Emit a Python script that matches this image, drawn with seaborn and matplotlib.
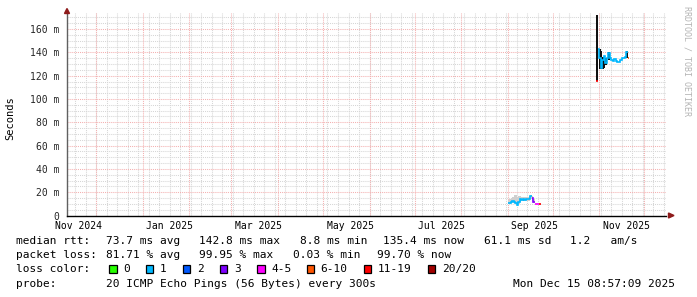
import numpy as np
import pandas as pd
import matplotlib
matplotlib.use("Agg")
import matplotlib.pyplot as plt
import matplotlib.dates as mdates
from matplotlib.patches import Rectangle, Polygon
import seaborn as sns

# ---------------- data ----------------
c1_dates = ["2025-09-01", "2025-09-02", "2025-09-03", "2025-09-04", "2025-09-05", "2025-09-06",
            "2025-09-07", "2025-09-08", "2025-09-09", "2025-09-10", "2025-09-11", "2025-09-12",
            "2025-09-13", "2025-09-14", "2025-09-15", "2025-09-16", "2025-09-17", "2025-09-18",
            "2025-09-19", "2025-09-20", "2025-09-21", "2025-09-22"]
c1_median = [10.4, 10.8, 12.0, 12.6, 12.0, 11.0, 8.9, 11.5, 13.8, 13.6, 13.8, 13.7,
             13.9, 13.8, 14.0, 16.7, 15.0, 12.0, 9.5, 9.5, 9.5, 9.6]
c1_loss = ["1", "1", "1", "1", "1", "1", "1", "1", "1", "1", "1", "1",
           "1", "1", "1", "1", "3", "3", "4-5", "4-5", "4-5", "11-19"]
c1_smoke_lo = [9.5, 9.8, 10.5, 11.0, 10.8, 9.8, 8.5, 10.0, 12.0, 12.2, 12.5, 12.4,
               12.5, 12.6, 12.8, 14.0, 12.5, 10.5, 9.0, 9.0, 9.0, 9.2]
c1_smoke_hi = [13.0, 14.5, 15.0, 15.5, 17.5, 17.5, 16.0, 17.0, 16.5, 16.0, 16.2, 16.0,
               16.3, 16.2, 16.5, 18.0, 17.0, 14.0, 11.0, 10.5, 10.5, 10.2]

c2_dates = ["2025-10-30", "2025-10-31", "2025-11-01", "2025-11-02", "2025-11-03", "2025-11-04",
            "2025-11-05", "2025-11-06", "2025-11-07", "2025-11-08", "2025-11-09", "2025-11-10",
            "2025-11-11", "2025-11-12", "2025-11-13", "2025-11-14", "2025-11-15", "2025-11-16",
            "2025-11-17", "2025-11-18", "2025-11-19", "2025-11-20"]
c2_median = [115.4, 142.8, 134.8, 126.3, 133.4, 137.0, 131.0, 135.0, 139.5, 135.4, 133.4, 133.0,
             134.5, 132.5, 131.5, 132.0, 133.5, 134.8, 135.4, 136.3, 140.5, 135.4]
c2_loss = ["11-19", "1", "1", "1", "1", "1", "1", "1", "1", "1", "1", "1",
           "1", "1", "1", "1", "1", "1", "1", "1", "1", "6-10"]
c2_smoke_lo = [115.4, np.nan, 125.4, 125.4, 125.4, 127.0, 129.0, np.nan, 133.4, np.nan, np.nan, np.nan,
               np.nan, np.nan, np.nan, np.nan, np.nan, np.nan, np.nan, np.nan, 134.8, np.nan]
c2_smoke_hi = [172.0, np.nan, 142.8, 141.0, 136.0, 136.0, 135.0, np.nan, 140.5, np.nan, np.nan, np.nan,
               np.nan, np.nan, np.nan, np.nan, np.nan, np.nan, np.nan, np.nan, 141.0, np.nan]

loss_labels = ["0", "1", "2", "3", "4-5", "6-10", "11-19", "20/20"]
loss_colors = ["#26ff00", "#00b8ff", "#0059ff", "#7e00ff", "#ff00ff", "#ff5500", "#ff0000", "#a10000"]

y_ticks = [0, 20, 40, 60, 80, 100, 120, 140, 160]
x_label_months = ["2024-11-01", "2025-01-01", "2025-03-01", "2025-05-01", "2025-07-01", "2025-09-01", "2025-11-01"]
x_label_texts = ["Nov 2024", "Jan 2025", "Mar 2025", "May 2025", "Jul 2025", "Sep 2025", "Nov 2025"]

rtt_items = ["73.7 ms avg", "142.8 ms max", "8.8 ms min", "135.4 ms now", "61.1 ms sd", "1.2   am/s"]
loss_items = ["81.71 % avg", "99.95 % max", "0.03 % min", "99.70 % now"]
probe_text = "20 ICMP Echo Pings (56 Bytes) every 300s"
stamp_text = "Mon Dec 15 08:57:09 2025"

# ---------------- style ----------------
sns.set_style("white")
plt.rcParams["font.family"] = ["DejaVu Sans Mono", "DejaVu Sans"]
MONO = "DejaVu Sans Mono"

W, H = 697, 297
fig = plt.figure(figsize=(W / 100, H / 100), dpi=100)
fig.patch.set_facecolor("white")


def fx(x):
    return x / W


def fy(y):
    return 1 - y / H


AX_L, AX_R, AX_T, AX_B = 67, 666, 13, 215.5
ax = fig.add_axes([fx(AX_L), fy(AX_B), (AX_R - AX_L) / W, (AX_B - AX_T) / H])
ax.set_facecolor("white")

x_start = pd.Timestamp("2024-11-11 14:00")
x_end = pd.Timestamp("2025-12-15 09:00")
YMAX = 173.8

# ---------------- grid ----------------
minor_c = "#d6d6d6"
major_c = "#f4b0b0"
dot = (0, (1, 1))
weeks = pd.date_range("2024-11-17", x_end, freq="7D")
months = pd.date_range("2024-12-01", x_end, freq="MS")
for d in weeks:
    ax.axvline(mdates.date2num(d), color=minor_c, lw=0.75, ls=dot, zorder=0)
for d in months:
    ax.axvline(mdates.date2num(d), color=major_c, lw=0.75, ls=dot, zorder=0.5)
for v in np.arange(5, YMAX, 5):
    if v % 20 == 0:
        ax.axhline(v, color=major_c, lw=0.75, ls=dot, zorder=0.5)
    else:
        ax.axhline(v, color=minor_c, lw=0.75, ls=dot, zorder=0)

# ---------------- smoke ----------------
def smoke(dates, lo, hi, color):
    lo = np.asarray(lo, float)
    hi = np.asarray(hi, float)
    x = mdates.date2num(pd.to_datetime(dates))
    ok = ~np.isnan(lo)
    ax.bar(x[ok], (hi - lo)[ok], bottom=lo[ok], width=1.0, align="edge",
           color=color, linewidth=0, zorder=2)


smoke(c1_dates, c1_smoke_lo, c1_smoke_hi, "#cfcfcf")
smoke(c2_dates, c2_smoke_lo, c2_smoke_hi, "#111111")

# ---------------- median line (coloured by loss) ----------------
rows = []
run = 0
for dates, med, loss in [(c1_dates, c1_median, c1_loss), (c2_dates, c2_median, c2_loss)]:
    prev = None
    for d, m, l in zip(dates, med, loss):
        t0 = pd.Timestamp(d)
        t1 = t0 + pd.Timedelta(days=1)
        if l != prev:
            run += 1
        rows.append((t0, m, l, run))
        rows.append((t1, m, l, run))
        prev = l
df = pd.DataFrame(rows, columns=["t", "v", "loss", "run"])
palette = dict(zip(loss_labels, loss_colors))
sns.lineplot(data=df, x="t", y="v", hue="loss", units="run", estimator=None, sort=False,
             palette=palette, legend=False, lw=1.2, ax=ax, zorder=3,
             solid_capstyle="butt", solid_joinstyle="miter")

# ---------------- axes ----------------
ax.set_xlim(mdates.date2num(x_start), mdates.date2num(x_end))
ax.set_ylim(0, YMAX)
ax.set_xlabel("")
ax.set_ylabel("")

label_pos = [mdates.date2num(pd.Timestamp(m) + pd.Timedelta(days=18)) for m in x_label_months]
ax.set_xticks(label_pos)
ax.set_xticklabels(x_label_texts, fontsize=7, family=MONO)
ax.set_xticks(mdates.date2num(list(weeks) + list(months)), minor=True)
ax.tick_params(axis="x", which="major", length=0, pad=4.2, colors="black")
ax.tick_params(axis="x", which="minor", length=2, direction="in", color="#999999")

ax.set_yticks(y_ticks)
ax.set_yticklabels(["0" if v == 0 else f"{v} m" for v in y_ticks], fontsize=7, family=MONO)
ax.set_yticks(np.arange(0, YMAX, 5), minor=True)
ax.tick_params(axis="y", which="major", length=2, direction="in", pad=5.5, color="#999999")
ax.tick_params(axis="y", which="minor", length=2, direction="in", color="#999999")

for s in ["top", "right"]:
    ax.spines[s].set_visible(False)
ax.spines["left"].set_color("#606060")
ax.spines["left"].set_linewidth(1.0)
ax.spines["bottom"].set_color("black")
ax.spines["bottom"].set_linewidth(1.0)

# arrows
arrow_c = "#8e1b1b"
fig.patches.append(Polygon([[fx(64.5), fy(13.5)], [fx(69.5), fy(13.5)], [fx(67), fy(8.5)]],
                           closed=True, transform=fig.transFigure, color=arrow_c, zorder=5))
fig.patches.append(Polygon([[fx(668.5), fy(213)], [fx(668.5), fy(218)], [fx(674), fy(215.5)]],
                           closed=True, transform=fig.transFigure, color=arrow_c, zorder=5))

# y unit label & watermark
fig.text(fx(10.3), fy(118.5), "Seconds", rotation=90, ha="center", va="center",
         fontsize=7.5, family=MONO, color="black")
fig.text(fx(687.5), fy(6), "RRDTOOL / TOBI OETIKER", rotation=270, ha="center", va="top",
         fontsize=6, family=MONO, color="#b4b4b4")

# ---------------- legend / stats ----------------
FS = 8


def t(x, y, s, ha="left"):
    fig.text(fx(x), fy(y), s, ha=ha, va="center", fontsize=FS, family=MONO, color="black")


L1, L2, L3, L4 = 241.3, 255.3, 269.3, 283.7
X0 = 16
t(X0, L1, "median rtt:")
for s, x in zip(rtt_items, [106.5, 199.3, 300, 383.3, 483.5, 569.5]):
    t(x, L1, s)
t(X0, L2, "packet loss:")
for s, x in zip(loss_items, [106.5, 199.3, 292.6, 377.3]):
    t(x, L2, s)
t(X0, L3, "loss color:")
box_x = [109, 145.7, 182.7, 220, 257.3, 306.7, 363.7, 428]
for bx, lab, col in zip(box_x, loss_labels, loss_colors):
    fig.patches.append(Rectangle((fx(bx), fy(L3 + 4)), 7.5 / W, 8 / H, transform=fig.transFigure,
                                 facecolor=col, edgecolor="black", linewidth=0.9, zorder=5))
    t(bx + 14, L3, lab)
t(X0, L4, "probe:")
t(106.5, L4, probe_text)
t(513, L4, stamp_text)

fig.savefig("out.png", dpi=100, facecolor="white")
